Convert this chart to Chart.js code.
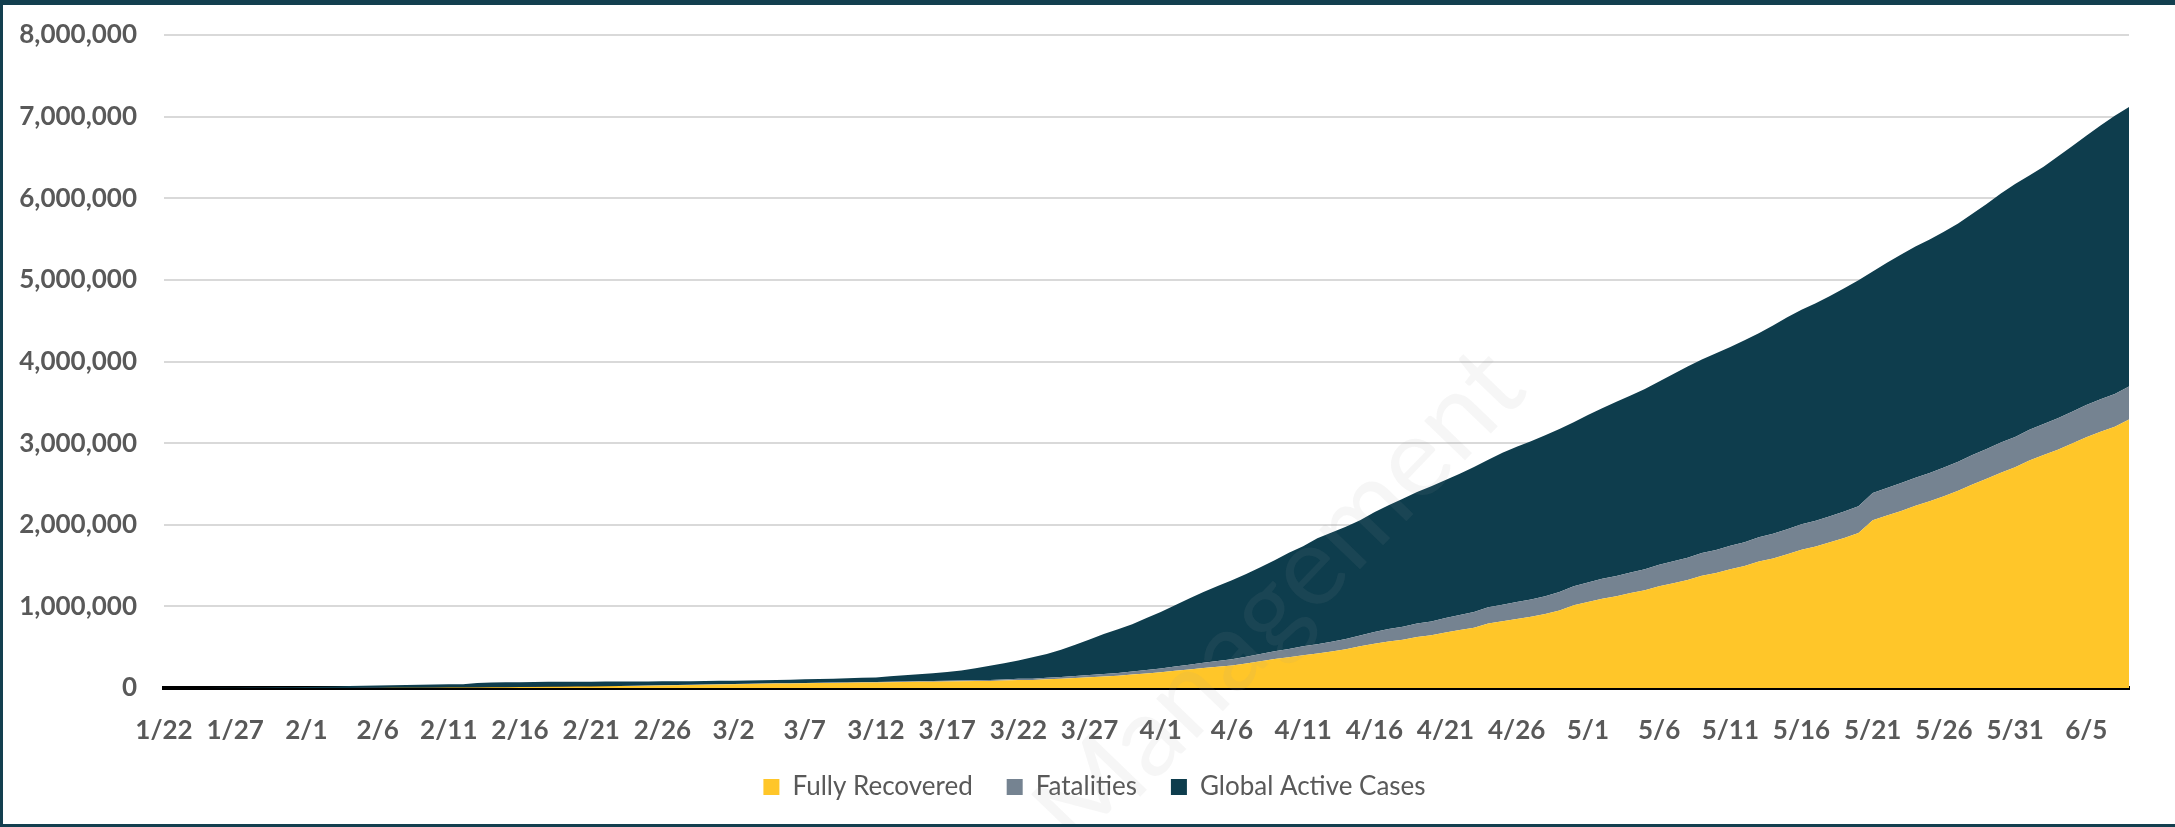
<!DOCTYPE html>
<html>
<head>
<meta charset="utf-8">
<script src="https://cdn.jsdelivr.net/npm/chart.js@4.4.1/dist/chart.umd.min.js"></script>
<style>
  html, body { margin: 0; padding: 0; background: #fff; }
  #wrap { position: relative; width: 2175px; height: 827px; }
  #frame { position: absolute; left: 0; top: 0; width: 2175px; height: 827px; box-sizing: border-box;
           border-top: 5px solid #133f4f; border-left: 3px solid #133f4f; border-bottom: 3px solid #133f4f; pointer-events: none; }
</style>
</head>
<body>
<div id="wrap">
  <canvas id="myChart" width="2175" height="827"></canvas>
  <div id="frame"></div>
</div>
<script>
// daily labels 1/22 .. 6/8
const dates = ['1/22','1/23','1/24','1/25','1/26','1/27','1/28','1/29','1/30','1/31',
  '2/1','2/2','2/3','2/4','2/5','2/6','2/7','2/8','2/9','2/10','2/11','2/12','2/13','2/14','2/15','2/16','2/17','2/18','2/19','2/20','2/21','2/22','2/23','2/24','2/25','2/26','2/27','2/28','2/29',
  '3/1','3/2','3/3','3/4','3/5','3/6','3/7','3/8','3/9','3/10','3/11','3/12','3/13','3/14','3/15','3/16','3/17','3/18','3/19','3/20','3/21','3/22','3/23','3/24','3/25','3/26','3/27','3/28','3/29','3/30','3/31',
  '4/1','4/2','4/3','4/4','4/5','4/6','4/7','4/8','4/9','4/10','4/11','4/12','4/13','4/14','4/15','4/16','4/17','4/18','4/19','4/20','4/21','4/22','4/23','4/24','4/25','4/26','4/27','4/28','4/29','4/30',
  '5/1','5/2','5/3','5/4','5/5','5/6','5/7','5/8','5/9','5/10','5/11','5/12','5/13','5/14','5/15','5/16','5/17','5/18','5/19','5/20','5/21','5/22','5/23','5/24','5/25','5/26','5/27','5/28','5/29','5/30','5/31',
  '6/1','6/2','6/3','6/4','6/5','6/6','6/7','6/8'];

// total confirmed cases (top of the stack)
const totalCases = [555,654,941,1434,2118,2927,5578,6166,8234,9927,
  12038,16787,19881,23892,27635,30794,34391,37120,40150,42762,44802,45221,60368,66885,69030,71224,73258,75136,75639,76197,76819,78572,78958,79561,80406,81388,82746,84112,86011,
  88369,90306,92840,95120,97886,101801,105847,109821,113590,118620,125875,128352,145205,156101,167454,181574,197102,214821,242570,272208,304507,336953,378235,418045,467653,529591,593291,660706,720117,782365,857487,
  932605,1013157,1095917,1176060,1249754,1321481,1396476,1480202,1565278,1657526,1735650,1834721,1904838,1976191,2056054,2152437,2240190,2317758,2401378,2472258,2549123,2624068,2708885,2795735,2881140,2955033,3023722,3097229,3172287,3256846,
  3343777,3427584,3506729,3583055,3662691,3755341,3845718,3938064,4024009,4101699,4177502,4261747,4347018,4442163,4542347,4634068,4713620,4801943,4897492,4996472,5102424,5210817,5310362,5407613,5495061,5589626,5691790,5808946,5930153,6057853,6175467,
  6278383,6385853,6511184,6637066,6766301,6891281,7010424,7119001];

const fatalities = [17,18,26,42,56,82,131,133,171,213,
  259,362,426,492,564,634,719,806,906,1013,1113,1118,1371,1523,1666,1770,1868,2007,2122,2247,2251,2458,2469,2629,2708,2770,2814,2872,2941,
  2996,3085,3160,3254,3348,3460,3558,3803,3996,4262,4615,4720,5404,5819,6440,7126,7905,8733,9867,11299,12973,14623,16497,18615,21181,23970,27198,30652,33925,37582,42107,
  46809,52983,58787,64606,69374,74565,81865,88338,95455,102525,108502,114090,119483,125984,134177,143800,153822,159510,165044,169986,176584,183027,190858,197159,202846,206544,211167,217153,227743,233388,
  238650,243808,247470,251537,257239,263855,269567,274898,279311,282709,286330,291942,297197,302418,307666,311781,315185,318481,323285,328115,332924,338160,342070,345059,346232,350453,355629,360308,364867,369126,371166,
  374087,379941,385217,390656,396094,399857,402697,406540];

const recovered = [28,30,36,39,52,61,107,126,143,222,
  284,472,623,852,1124,1487,2011,2616,3244,3946,4683,5150,6295,8058,9395,10865,12583,14352,16121,18177,18890,22886,23394,25227,27905,30384,33277,36711,39782,
  42716,45602,48228,51170,53796,55865,58358,60694,62494,64404,67003,68324,70251,72624,76034,78088,80840,83207,84854,87256,91499,97704,98334,107991,113787,122150,130915,139415,149082,164566,178034,
  193177,210263,225796,246152,260012,276515,300054,328661,353975,376096,402110,421722,448655,474261,510214,541814,568343,592319,623903,645738,680400,710263,739273,790829,817007,845881,872992,906880,948445,1013968,
  1052415,1093112,1125236,1162724,1198832,1245413,1284741,1322050,1375624,1408980,1456209,1493414,1548547,1587893,1637067,1693197,1733963,1786875,1838995,1897466,2056643,2112185,2168563,2231738,2286956,2350088,2415960,2493429,2563330,2638193,2704152,
  2788504,2853125,2920223,2995004,3071013,3138974,3199384,3288106];

const activeCases = totalCases.map((t, i) => t - fatalities[i] - recovered[i]);

const yTicks = [0, 1000000, 2000000, 3000000, 4000000, 5000000, 6000000, 7000000, 8000000];

const watermark = {
    id: 'watermark',
    afterLayout(chart) {
        // nudge legend to sit where the original one is
        chart.legend.left += 30;
        chart.legend.right += 30;
    },
    afterDatasetsDraw(chart) {
        const ctx = chart.ctx;
        ctx.save();
        ctx.translate(1280, 600);
        ctx.rotate(-46 * Math.PI / 180);
        ctx.font = '112px Lato';
        ctx.fillStyle = 'rgba(150, 150, 150, 0.09)';
        ctx.textAlign = 'center';
        ctx.textBaseline = 'middle';
        ctx.fillText('Management', 0, 0);
        ctx.restore();
    }
};

const ctx = document.getElementById('myChart').getContext('2d');
const myChart = new Chart(ctx, {
    type: 'line',
    data: {
        labels: dates,
        datasets: [{
            label: 'Fully Recovered',
            data: recovered,
            backgroundColor: '#ffc629',
            borderWidth: 0,
            pointRadius: 0,
            fill: 'origin'
        }, {
            label: 'Fatalities',
            data: fatalities,
            backgroundColor: '#758391',
            borderWidth: 0,
            pointRadius: 0,
            fill: '-1'
        }, {
            label: 'Global Active Cases',
            data: activeCases,
            backgroundColor: '#0e3d4d',
            borderWidth: 0,
            pointRadius: 0,
            fill: '-1'
        }]
    },
    options: {
        responsive: false,
        animation: false,
        layout: { padding: { left: 0, right: 46, top: 35, bottom: 17 } },
        plugins: {
            tooltip: { enabled: false },
            legend: {
                position: 'bottom',
                labels: {
                    boxWidth: 16,
                    boxHeight: 16,
                    padding: 34,
                    color: '#595959',
                    font: { family: 'Lato', size: 26 }
                }
            }
        },
        scales: {
            x: {
                stacked: true,
                offset: false,
                z: 1,
                grid: { display: false, drawTicks: false },
                border: { display: true, color: '#000', width: 4 },
                ticks: {
                    autoSkip: false,
                    maxRotation: 0,
                    padding: 27,
                    color: '#595959',
                    font: { family: 'Lato', size: 26, weight: 'bold' },
                    callback: function (val, i) { return i % 5 === 0 ? dates[i] : ''; }
                },
                afterFit: function (scale) { scale.height = 52; }
            },
            y: {
                stacked: true,
                min: 0,
                max: 8000000,
                afterBuildTicks: function (scale) { scale.ticks = yTicks.map(v => ({ value: v })); },
                grid: { color: '#d9d9d9', lineWidth: 2, drawTicks: false },
                border: { display: false },
                ticks: {
                    padding: 27,
                    color: '#595959',
                    font: { family: 'Lato', size: 26, weight: 'bold' },
                    callback: function (v) { return v.toLocaleString('en-US'); }
                },
                afterFit: function (scale) {
                    scale.width = 164;
                    scale.paddingTop = 10;
                }
            }
        }
    },
    plugins: [watermark]
});
</script>
</body>
</html>
